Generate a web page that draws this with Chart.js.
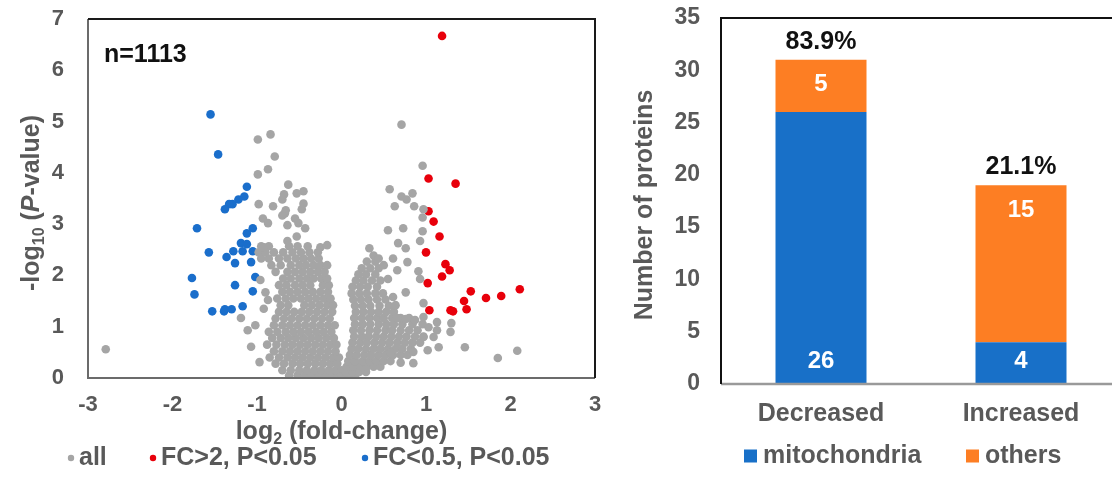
<!DOCTYPE html>
<html>
<head>
<meta charset="utf-8">
<script src="https://cdn.jsdelivr.net/npm/chart.js@4.4.1/dist/chart.umd.min.js"></script>
<style>
  html, body { margin: 0; padding: 0; background: #fff; overflow: hidden; width: 1112px; height: 496px; }
  #volcano { position: absolute; left: 0; top: 0; }
  #bars { position: absolute; left: 610px; top: 0; }
</style>
</head>
<body>
<canvas id="volcano" width="610" height="496"></canvas>
<canvas id="bars" width="520" height="496"></canvas>
<script>
// volcano plot: [log2 fold-change, -log10 P] pairs
const allPoints = [
  // left lobe, bottom up
  [-0.62,0.05],[-0.52,0.05],[-0.43,0.05],[-0.35,0.05],[-0.27,0.05],[-0.19,0.05],[-0.11,0.05],[-0.04,0.05],[0.02,0.05],
  [-0.7,0.15],[-0.6,0.15],[-0.5,0.15],[-0.41,0.15],[-0.32,0.15],[-0.24,0.15],[-0.15,0.15],[-0.07,0.15],[0.0,0.15],
  [-0.78,0.28],[-0.68,0.28],[-0.58,0.28],[-0.49,0.28],[-0.4,0.28],[-0.31,0.28],[-0.22,0.28],[-0.13,0.28],[-0.05,0.28],
  [-0.85,0.4],[-0.74,0.4],[-0.64,0.4],[-0.55,0.4],[-0.46,0.4],[-0.37,0.4],[-0.28,0.4],[-0.19,0.4],[-0.1,0.4],[-0.03,0.4],
  [-0.8,0.52],[-0.7,0.52],[-0.61,0.52],[-0.52,0.52],[-0.43,0.52],[-0.34,0.52],[-0.25,0.52],[-0.16,0.52],[-0.07,0.52],
  [-0.88,0.65],[-0.77,0.65],[-0.67,0.65],[-0.58,0.65],[-0.49,0.65],[-0.4,0.65],[-0.31,0.65],[-0.22,0.65],[-0.13,0.65],[-0.06,0.65],
  [-0.82,0.78],[-0.72,0.78],[-0.63,0.78],[-0.54,0.78],[-0.45,0.78],[-0.36,0.78],[-0.27,0.78],[-0.18,0.78],[-0.09,0.78],
  [-0.86,0.9],[-0.76,0.9],[-0.66,0.9],[-0.57,0.9],[-0.48,0.9],[-0.39,0.9],[-0.3,0.9],[-0.21,0.9],[-0.12,0.9],
  [-0.8,1.03],[-0.7,1.03],[-0.61,1.03],[-0.52,1.03],[-0.43,1.03],[-0.34,1.03],[-0.25,1.03],[-0.16,1.03],[-0.08,1.03],
  [-0.78,1.16],[-0.68,1.16],[-0.59,1.16],[-0.5,1.16],[-0.41,1.16],[-0.32,1.16],[-0.23,1.16],[-0.14,1.16],
  [-0.74,1.29],[-0.65,1.29],[-0.56,1.29],[-0.47,1.29],[-0.38,1.29],[-0.29,1.29],[-0.2,1.29],[-0.11,1.29],
  [-0.72,1.42],[-0.63,1.42],[-0.44,1.42],[-0.35,1.42],[-0.26,1.42],[-0.17,1.42],[-0.1,1.42],
  [-0.76,1.55],[-0.66,1.55],[-0.57,1.55],[-0.48,1.55],[-0.39,1.55],[-0.3,1.55],[-0.21,1.55],[-0.13,1.55],
  [-0.7,1.68],[-0.61,1.68],[-0.52,1.68],[-0.43,1.68],[-0.34,1.68],[-0.25,1.68],[-0.16,1.68],
  [-0.74,1.81],[-0.65,1.81],[-0.55,1.81],[-0.46,1.81],[-0.37,1.81],[-0.22,1.81],[-0.15,1.81],
  [-0.69,1.94],[-0.6,1.94],[-0.5,1.94],[-0.41,1.94],[-0.33,1.94],[-0.24,1.94],[-0.17,1.94],
  [-0.78,2.07],[-0.64,2.07],[-0.55,2.07],[-0.46,2.07],[-0.37,2.07],[-0.28,2.07],[-0.2,2.07],
  [-0.83,2.2],[-0.72,2.2],[-0.6,2.2],[-0.5,2.2],[-0.42,2.2],[-0.33,2.2],[-0.25,2.2],[-0.17,2.2],
  [-0.95,2.33],[-0.86,2.33],[-0.74,2.33],[-0.64,2.33],[-0.54,2.33],[-0.45,2.33],[-0.36,2.33],[-0.27,2.33],
  [-0.98,2.45],[-0.9,2.45],[-0.8,2.45],[-0.69,2.45],[-0.58,2.45],[-0.48,2.45],[-0.38,2.45],[-0.28,2.45],
  [-0.95,2.57],[-0.86,2.57],[-0.62,2.57],[-0.52,2.57],[-0.4,2.57],
  // left scattered
  [-2.79,0.56],[-0.99,4.65],[-0.84,4.75],[-0.79,4.32],[-0.87,4.07],[-0.99,3.97],[-0.63,3.77],[-0.53,3.6],
  [-0.45,3.64],[-0.68,3.58],[-0.7,3.48],[-0.45,3.4],[-0.98,3.39],[-0.81,3.35],[-0.66,3.27],[-0.47,3.29],
  [-0.67,3.21],[-0.7,3.17],[-0.93,3.11],[-0.55,3.11],[-0.87,3.02],[-0.51,3.02],[-0.64,2.98],[-0.43,2.92],
  [-0.53,2.76],[-0.64,2.67],[-0.92,2.55],[-0.25,2.55],[-0.17,2.59],[-0.96,1.91],[-0.9,1.67],[-0.87,1.52],
  [-1.19,1.17],[-1.11,0.93],[-1.07,0.61],[-0.97,0.31],[-1.02,1.03],[-0.92,1.35],
  // right lobe, bottom up
  [0.0,0.03],[0.08,0.03],[0.16,0.03],
  [0.05,0.12],[0.13,0.12],[0.21,0.12],[0.29,0.12],
  [0.06,0.22],[0.14,0.22],[0.22,0.22],[0.3,0.22],[0.38,0.22],[0.46,0.22],
  [0.08,0.33],[0.16,0.33],[0.25,0.33],[0.33,0.33],[0.41,0.33],[0.5,0.33],[0.58,0.33],
  [0.1,0.45],[0.18,0.45],[0.27,0.45],[0.35,0.45],[0.44,0.45],[0.52,0.45],[0.61,0.45],[0.7,0.45],[0.78,0.45],
  [0.12,0.57],[0.2,0.57],[0.29,0.57],[0.38,0.57],[0.46,0.57],[0.55,0.57],[0.64,0.57],[0.72,0.57],[0.82,0.57],
  [0.13,0.69],[0.22,0.69],[0.3,0.69],[0.39,0.69],[0.48,0.69],[0.57,0.69],[0.66,0.69],[0.75,0.69],[0.84,0.69],[0.93,0.69],
  [0.15,0.81],[0.24,0.81],[0.32,0.81],[0.41,0.81],[0.5,0.81],[0.59,0.81],[0.68,0.81],[0.77,0.81],[0.87,0.81],[0.97,0.81],
  [0.14,0.93],[0.23,0.93],[0.33,0.93],[0.42,0.93],[0.52,0.93],[0.6,0.93],[0.7,0.93],[0.8,0.93],[0.9,0.93],
  [0.16,1.05],[0.25,1.05],[0.34,1.05],[0.44,1.05],[0.53,1.05],[0.62,1.05],[0.72,1.05],[0.84,1.05],[0.96,1.05],
  [0.15,1.17],[0.24,1.17],[0.33,1.17],[0.42,1.17],[0.5,1.17],[0.6,1.17],[0.7,1.17],[0.8,1.17],
  [0.17,1.29],[0.26,1.29],[0.35,1.29],[0.44,1.29],[0.53,1.29],[0.62,1.29],
  [0.16,1.41],[0.25,1.41],[0.34,1.41],[0.45,1.41],[0.56,1.41],
  [0.14,1.53],[0.23,1.53],[0.32,1.53],[0.42,1.53],[0.52,1.53],
  [0.12,1.65],[0.21,1.65],[0.3,1.65],[0.4,1.65],[0.49,1.65],
  [0.13,1.78],[0.22,1.78],[0.31,1.78],[0.42,1.78],
  [0.17,1.9],[0.26,1.9],[0.36,1.9],[0.46,1.9],
  [0.2,2.02],[0.29,2.02],[0.4,2.02],
  [0.24,2.14],[0.34,2.14],[0.44,2.14],
  [0.3,2.27],[0.4,2.27],
  // right scattered
  [0.71,4.94],[0.96,4.14],[0.57,3.68],[0.84,3.6],[0.71,3.54],[0.77,3.48],[0.63,3.35],[0.86,3.35],
  [0.97,3.29],[0.96,3.13],[0.55,2.88],[0.73,2.92],[0.96,2.86],[0.93,2.67],[0.67,2.63],[0.33,2.53],
  [0.76,2.53],[0.38,2.39],[0.44,2.33],[0.61,2.33],[0.78,2.26],[0.5,2.2],[0.66,2.1],[0.91,2.08],
  [0.55,1.93],[0.93,1.93],[0.76,1.67],[0.61,1.58],[0.97,1.46],[0.64,1.42],[0.66,1.17],[0.76,1.15],
  [0.87,1.13],[0.97,1.19],[1.13,1.09],[1.3,1.07],[1.29,0.9],[1.13,0.93],[1.03,0.99],[1.09,0.8],
  [0.97,0.8],[1.15,0.6],[1.02,0.54],[1.46,0.6],[1.85,0.39],[2.08,0.53],[0.85,0.29],[0.85,0.51],
  [0.58,0.49],[0.7,0.3]
];
const upPoints = [
  [1.19,6.67],[1.03,3.89],[1.35,3.79],[1.03,3.25],[1.09,3.05],[1.16,2.76],[1.0,2.45],[1.23,2.22],
  [1.28,2.1],[1.19,1.98],[1.02,1.85],[1.53,1.69],[1.45,1.5],[1.71,1.56],[1.89,1.6],[2.11,1.73],
  [1.04,1.32],[1.29,1.32],[1.32,1.3],[1.48,1.34]
];
const downPoints = [
  [-1.55,5.14],[-1.46,4.36],[-1.12,3.73],[-1.15,3.54],[-1.22,3.48],[-1.29,3.39],[-1.33,3.39],[-1.38,3.29],
  [-1.71,2.92],[-1.05,2.92],[-1.12,2.82],[-1.19,2.63],[-1.12,2.61],[-1.17,2.47],[-1.05,2.47],[-1.57,2.45],
  [-1.28,2.47],[-1.36,2.36],[-1.26,2.24],[-1.07,2.26],[-1.77,1.95],[-1.02,1.97],[-1.26,1.81],[-1.05,1.69],
  [-1.74,1.63],[-1.17,1.4],[-1.53,1.3],[-1.39,1.3],[-1.38,1.34],[-1.3,1.34]
];
const volcanoLegend = ['all', 'FC>2, P<0.05', 'FC<0.5, P<0.05'];

// bar chart
const categories = ['Decreased', 'Increased'];
const mitochondria = [26, 4];
const others = [5, 15];
const percentLabels = ['83.9%', '21.1%'];

const FONT = "'Liberation Sans', Arial, sans-serif";
const GRAY = '#595959';
const GREY_DOT = '#a5a5a5';
const RED = '#e8000b';
const BLUE = '#1a6ecb';
const BAR_BLUE = '#1870c8';
const BAR_ORANGE = '#fd7e23';

const toXY = (arr) => arr.map(p => ({ x: p[0], y: p[1] }));

// keep the plot area exactly where layout.padding puts it
function noOverflow(s) {
  s.paddingTop = 0; s.paddingBottom = 0; s.paddingLeft = 0; s.paddingRight = 0;
}

// draws a line of text made of parts (subscript / italic), centered on cx,cy
function drawRich(ctx, parts, cx, cy, angle, size, color) {
  ctx.save();
  ctx.translate(cx, cy);
  if (angle) ctx.rotate(angle);
  ctx.textBaseline = 'middle';
  ctx.textAlign = 'left';
  ctx.fillStyle = color;
  const fontOf = (p) => (p.italic ? 'italic ' : '') + 'bold ' + (p.sub ? Math.round(size * 0.62) : size) + 'px ' + FONT;
  let total = 0;
  parts.forEach(p => { ctx.font = fontOf(p); p.w = ctx.measureText(p.t).width; total += p.w; });
  let x = -total / 2;
  parts.forEach(p => {
    ctx.font = fontOf(p);
    ctx.fillText(p.t, x, p.sub ? size * 0.3 : 0);
    x += p.w;
  });
  ctx.restore();
}

const volcanoDecor = {
  id: 'volcanoDecor',
  afterDraw(chart) {
    const { ctx, chartArea: a } = chart;
    ctx.save();
    ctx.lineWidth = 2;
    ctx.strokeStyle = '#6b6b6b';
    ctx.beginPath();
    ctx.moveTo(a.left, a.top); ctx.lineTo(a.left, a.bottom); ctx.lineTo(a.right, a.bottom);
    ctx.stroke();
    ctx.strokeStyle = '#1a1a1a';
    ctx.beginPath();
    ctx.moveTo(a.left, a.top); ctx.lineTo(a.right, a.top); ctx.lineTo(a.right, a.bottom);
    ctx.stroke();

    ctx.fillStyle = '#111';
    ctx.font = 'bold 25px ' + FONT;
    ctx.textBaseline = 'middle';
    ctx.textAlign = 'left';
    ctx.fillText('n=1113', a.left + 16, 55);

    drawRich(ctx, [{ t: 'log' }, { t: '2', sub: true }, { t: ' (fold-change)' }], (a.left + a.right) / 2, 432, 0, 25, GRAY);
    drawRich(ctx, [{ t: '-log' }, { t: '10', sub: true }, { t: ' (' }, { t: 'P', italic: true }, { t: '-value)' }], 32, 203, -Math.PI / 2, 25, GRAY);

    // legend
    const legendColors = [GREY_DOT, RED, BLUE];
    const legendX = [71, 153, 365];
    const ly = 458;
    ctx.font = 'bold 25px ' + FONT;
    volcanoLegend.forEach((txt, i) => {
      ctx.fillStyle = legendColors[i];
      ctx.beginPath();
      ctx.arc(legendX[i], ly, 3.2, 0, Math.PI * 2);
      ctx.fill();
      ctx.fillStyle = GRAY;
      ctx.fillText(txt, legendX[i] + 8, ly);
    });
    ctx.restore();
  }
};

new Chart(document.getElementById('volcano'), {
  type: 'scatter',
  data: {
    datasets: [
      { label: volcanoLegend[0], data: toXY(allPoints), backgroundColor: GREY_DOT, pointRadius: 4.3, borderWidth: 0 },
      { label: volcanoLegend[1], data: toXY(upPoints), backgroundColor: RED, pointRadius: 4.3, borderWidth: 0 },
      { label: volcanoLegend[2], data: toXY(downPoints), backgroundColor: BLUE, pointRadius: 4.3, borderWidth: 0 }
    ]
  },
  options: {
    responsive: false,
    animation: false,
    events: [],
    layout: { padding: { top: 19, right: 15, left: 0, bottom: 0 } },
    plugins: { legend: { display: false }, tooltip: { enabled: false } },
    scales: {
      x: {
        type: 'linear', min: -3, max: 3,
        grid: { display: false }, border: { display: false },
        ticks: { stepSize: 1, color: GRAY, padding: 6, font: { family: FONT, size: 22, weight: 'bold' } },
        afterFit(s) { s.height = 118; noOverflow(s); }
      },
      y: {
        min: 0, max: 7,
        grid: { display: false }, border: { display: false },
        ticks: { stepSize: 1, color: GRAY, padding: 16, font: { family: FONT, size: 22, weight: 'bold' } },
        afterFit(s) { s.width = 88; noOverflow(s); }
      }
    }
  },
  plugins: [volcanoDecor]
});

const barDecor = {
  id: 'barDecor',
  afterDraw(chart) {
    const { ctx, chartArea: a } = chart;
    ctx.save();
    ctx.lineWidth = 2.5;
    ctx.strokeStyle = '#9a9a9a';
    ctx.beginPath();
    ctx.moveTo(a.left, a.bottom); ctx.lineTo(chart.width, a.bottom);
    ctx.stroke();
    ctx.lineWidth = 2;
    ctx.strokeStyle = '#111';
    ctx.beginPath();
    ctx.moveTo(a.left, a.bottom); ctx.lineTo(a.left, a.top); ctx.lineTo(chart.width, a.top);
    ctx.stroke();

    const mitoMeta = chart.getDatasetMeta(0).data;
    const otherMeta = chart.getDatasetMeta(1).data;
    ctx.textAlign = 'center';
    ctx.textBaseline = 'middle';
    ctx.font = 'bold 24px ' + FONT;
    ctx.fillStyle = '#fff';
    mitoMeta.forEach((bar, i) => ctx.fillText(String(mitochondria[i]), bar.x, bar.base - 23));
    otherMeta.forEach((bar, i) => ctx.fillText(String(others[i]), bar.x, bar.y + 25));
    ctx.fillStyle = '#111';
    ctx.font = 'bold 25px ' + FONT;
    otherMeta.forEach((bar, i) => ctx.fillText(percentLabels[i], bar.x, bar.y - 18));

    drawRich(ctx, [{ t: 'Number of proteins' }], 35, 205, -Math.PI / 2, 25, GRAY);

    // legend
    const ly = 456;
    ctx.textAlign = 'left';
    ctx.font = 'bold 25px ' + FONT;
    [[BAR_BLUE, 'mitochondria', 134], [BAR_ORANGE, 'others', 356]].forEach(([c, t, x]) => {
      ctx.fillStyle = c;
      ctx.fillRect(x, ly - 6.5, 13, 13);
      ctx.fillStyle = GRAY;
      ctx.fillText(t, x + 19, ly);
    });
    ctx.restore();
  }
};

new Chart(document.getElementById('bars'), {
  type: 'bar',
  data: {
    labels: categories,
    datasets: [
      { label: 'mitochondria', data: mitochondria, backgroundColor: BAR_BLUE, categoryPercentage: 1, barPercentage: 0.455 },
      { label: 'others', data: others, backgroundColor: BAR_ORANGE, categoryPercentage: 1, barPercentage: 0.455 }
    ]
  },
  options: {
    responsive: false,
    animation: false,
    events: [],
    layout: { padding: { top: 18, right: 9, left: 0, bottom: 0 } },
    plugins: { legend: { display: false }, tooltip: { enabled: false } },
    scales: {
      x: {
        stacked: true,
        grid: { display: false }, border: { display: false },
        ticks: { color: GRAY, padding: 7, font: { family: FONT, size: 25, weight: 'bold' } },
        afterFit(s) { s.height = 112; noOverflow(s); }
      },
      y: {
        stacked: true, min: 0, max: 35,
        grid: { display: false }, border: { display: false },
        ticks: { stepSize: 5, color: GRAY, padding: 13, font: { family: FONT, size: 23, weight: 'bold' } },
        afterFit(s) { s.width = 111; noOverflow(s); }
      }
    }
  },
  plugins: [barDecor]
});
</script>
</body>
</html>
